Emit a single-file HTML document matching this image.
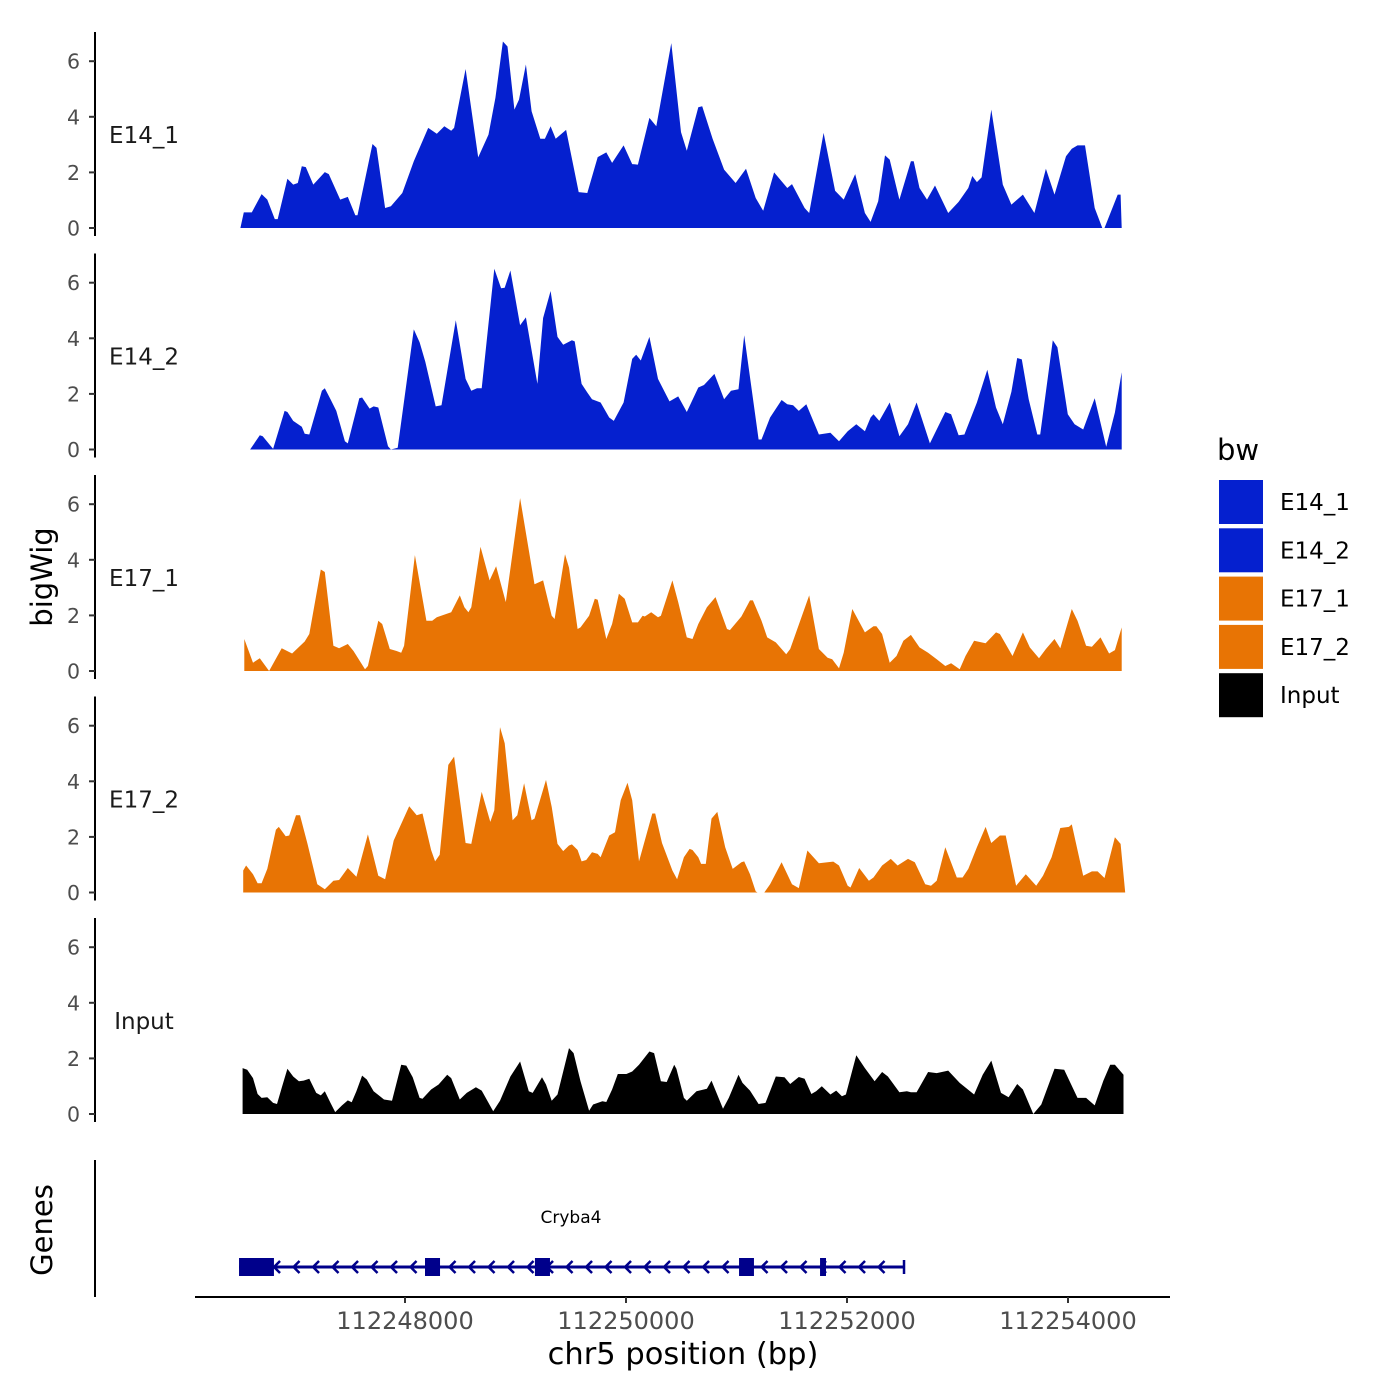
<!DOCTYPE html>
<html><head><meta charset="utf-8">
<style>
body{margin:0;background:#fff;}
svg{display:block;font-family:"DejaVu Sans","Liberation Sans",sans-serif;}
</style></head>
<body>
<svg id="chart" width="1400" height="1400" xmlns="http://www.w3.org/2000/svg"></svg>
<script>
const START = 112246380;
const trackNames = ["E14_1","E14_2","E17_1","E17_2","Input"];
const trackColors = ["#0520cf","#0520cf","#e87404","#e87404","#000000"];
const yTicks = [0,2,4,6];
const xTicks = [112248000,112250000,112252000,112254000];
const pos1 = [130,161,234,322,374,442,468,556,608,650,686,722,790,894,930,1034,1102,1170,1190,1326,1362,1440,1492,1596,1700,1830,1908,1976,2038,2064,2168,2282,2376,2438,2506,2548,2610,2652,2714,2766,2844,2886,2938,2984,3078,3192,3270,3364,3442,3494,3598,3676,3728,3832,3894,4030,4118,4170,4274,4310,4404,4508,4612,4706,4794,4862,4960,5080,5122,5236,5278,5408,5512,5590,5694,5782,5834,5902,5964,6006,6094,6198,6224,6276,6344,6416,6536,6630,6718,6754,6796,6838,6926,7030,7108,7212,7316,7420,7498,7602,7654,7706,7774,7862,7930,7950,8070,8096,8106];
const val1 = [0,0.56,0.56,1.22,1.02,0.32,0.32,1.77,1.56,1.62,2.22,2.19,1.56,2.01,1.94,1.02,1.12,0.46,0.46,3.02,2.88,0.72,0.78,1.26,2.40,3.60,3.39,3.66,3.50,3.60,5.72,2.54,3.36,4.68,6.71,6.53,4.26,4.62,5.88,4.20,3.21,3.21,3.66,3.21,3.53,1.29,1.26,2.55,2.72,2.34,2.97,2.30,2.28,3.96,3.66,6.65,3.45,2.78,4.34,4.38,3.21,2.10,1.62,2.13,1.08,0.62,2.00,1.44,1.58,0.72,0.54,3.42,1.34,1.02,1.94,0.54,0.22,0.96,2.61,2.46,1.02,2.40,2.40,1.44,1.02,1.53,0.54,0.94,1.44,1.87,1.65,1.82,4.26,1.56,0.84,1.20,0.54,2.13,1.20,2.58,2.85,2.97,2.97,0.72,0,0,1.20,1.20,0];
const pos2 = [218,306,332,426,530,556,608,686,712,754,868,894,946,998,1076,1102,1206,1232,1300,1336,1378,1466,1492,1554,1700,1752,1804,1898,1950,2080,2168,2220,2272,2314,2428,2490,2522,2574,2662,2714,2818,2870,2938,3000,3052,3130,3156,3218,3270,3312,3390,3468,3510,3598,3676,3712,3754,3832,3910,4014,4092,4170,4274,4326,4420,4508,4570,4638,4690,4820,4846,4924,5028,5080,5132,5184,5252,5366,5470,5548,5626,5704,5782,5834,5860,5912,6006,6094,6172,6250,6370,6510,6562,6630,6682,6796,6890,6968,7030,7108,7160,7202,7264,7342,7368,7482,7524,7618,7680,7758,7862,7966,8044,8106];
const val2 = [0,0.51,0.48,0.02,1.39,1.35,1.03,0.82,0.57,0.54,2.11,2.20,1.81,1.39,0.30,0.22,1.84,1.87,1.47,1.55,1.51,0.12,0,0.06,4.32,3.86,3.16,1.55,1.59,4.65,2.54,2.11,2.20,2.20,6.50,5.80,5.82,6.44,4.47,4.75,2.36,4.73,5.70,4.05,3.77,3.93,3.89,2.36,2.05,1.81,1.69,1.15,1.03,1.69,3.26,3.41,3.20,4.05,2.54,1.73,1.91,1.35,2.23,2.32,2.72,1.81,2.11,2.17,4.11,0.36,0.36,1.15,1.78,1.63,1.59,1.39,1.63,0.54,0.60,0.30,0.66,0.91,0.66,1.15,1.27,1.03,1.69,0.48,0.91,1.69,0.22,1.35,1.27,0.51,0.54,1.69,2.87,1.51,0.91,2.08,3.29,3.24,1.81,0.54,0.54,3.93,3.68,1.27,0.91,0.72,1.84,0.10,1.33,2.78];
const pos3 = [166,244,306,390,504,598,712,754,858,894,972,1024,1102,1154,1258,1284,1378,1414,1482,1544,1586,1612,1710,1814,1866,1908,2038,2116,2158,2194,2220,2303,2386,2444,2532,2662,2740,2792,2870,2948,2974,3068,3104,3182,3208,3286,3338,3364,3442,3494,3556,3608,3676,3728,3770,3790,3848,3910,3936,4040,4092,4170,4222,4274,4352,4430,4534,4560,4664,4742,4768,4846,4898,4976,5070,5106,5278,5366,5444,5486,5548,5590,5668,5782,5860,5886,5938,6006,6068,6130,6198,6276,6354,6432,6510,6562,6640,6692,6770,6874,6968,7004,7118,7212,7274,7358,7420,7498,7550,7654,7706,7784,7836,7914,7992,8044,8106];
const val3 = [1.15,0.30,0.46,0,0.82,0.63,1.06,1.33,3.65,3.56,0.91,0.82,0.97,0.72,0.06,0.18,1.81,1.69,0.79,0.72,0.66,0.91,4.17,1.81,1.81,1.93,2.11,2.72,2.29,2.11,2.29,4.47,3.26,3.77,2.48,6.22,4.35,3.12,3.26,1.99,1.87,4.20,3.72,1.51,1.57,1.99,2.60,2.56,1.15,1.69,2.78,2.60,1.75,1.75,1.99,1.96,2.11,1.93,1.99,3.26,2.48,1.21,1.15,1.69,2.29,2.66,1.51,1.47,1.96,2.54,2.54,1.81,1.21,1.03,0.60,0.79,2.72,0.79,0.48,0.42,0.10,0.66,2.23,1.39,1.61,1.61,1.33,0.30,0.54,1.09,1.30,0.85,0.66,0.42,0.18,0.28,0.06,0.54,1.09,1.00,1.39,1.33,0.54,1.39,0.85,0.46,0.79,1.15,0.82,2.23,1.81,0.91,0.87,1.21,0.63,0.75,1.57];
const pos4 = [156,182,244,286,322,374,452,478,540,572,634,670,738,826,894,972,1024,1102,1180,1284,1378,1440,1518,1658,1726,1778,1856,1892,1934,2012,2064,2168,2220,2314,2392,2428,2480,2522,2594,2636,2698,2766,2792,2896,2948,3000,3052,3104,3130,3182,3218,3260,3312,3364,3390,3468,3520,3572,3634,3676,3738,3858,3884,3946,4040,4082,4144,4196,4222,4274,4300,4342,4394,4446,4518,4586,4664,4690,4742,4794,4810,4872,4924,5028,5122,5184,5262,5366,5444,5496,5548,5626,5652,5730,5818,5860,5938,6016,6078,6172,6234,6328,6380,6432,6510,6614,6666,6718,6796,6874,6926,7004,7056,7150,7238,7332,7394,7472,7550,7628,7654,7758,7836,7888,7950,8044,8096,8138];
const val4 = [0.79,0.97,0.66,0.33,0.33,0.85,2.26,2.36,2.02,2.05,2.78,2.78,1.75,0.30,0.12,0.42,0.45,0.88,0.57,2.09,0.60,0.48,1.87,3.10,2.78,2.84,1.53,1.12,1.36,4.59,4.89,1.78,1.75,3.62,2.54,2.96,5.95,5.37,2.60,2.78,3.93,2.60,2.66,4.05,3.08,1.75,1.49,1.69,1.73,1.53,1.12,1.17,1.45,1.39,1.27,2.05,2.17,3.32,3.95,3.32,1.12,2.84,2.84,1.78,0.79,0.48,1.27,1.57,1.53,1.27,1.03,1.03,2.66,2.90,1.63,0.85,1.09,1.12,0.66,0.04,0,0,0.30,1.09,0.30,0.16,1.51,1.05,1.09,1.11,0.97,0.24,0.18,0.88,0.42,0.54,0.97,1.21,0.97,1.21,1.09,0.30,0.24,0.42,1.63,0.54,0.54,0.85,1.63,2.36,1.78,2.05,2.05,0.24,0.66,0.24,0.60,1.27,2.32,2.36,2.45,0.60,0.76,0.76,0.52,1.99,1.75,0];
const pos5 = [150,192,244,286,322,374,426,462,504,556,608,660,702,754,816,858,894,946,988,1050,1102,1138,1180,1232,1274,1336,1430,1502,1586,1632,1690,1752,1778,1856,1924,2002,2038,2116,2178,2262,2314,2418,2480,2574,2662,2740,2776,2860,2896,2948,3000,3104,3146,3208,3286,3322,3406,3442,3494,3546,3624,3676,3738,3832,3874,3936,3988,4056,4076,4144,4170,4258,4352,4394,4498,4550,4638,4674,4742,4820,4882,4976,5054,5106,5184,5236,5298,5340,5392,5470,5522,5574,5610,5704,5782,5870,5938,5990,6094,6162,6198,6250,6354,6432,6536,6640,6770,6848,6926,7014,7082,7160,7212,7306,7378,7498,7586,7706,7784,7862,7940,8002,8044,8122];
const val5 = [1.65,1.59,1.29,0.72,0.58,0.60,0.40,0.36,0.94,1.63,1.35,1.18,1.20,1.27,0.76,0.67,0.82,0.40,0.07,0.31,0.49,0.42,0.82,1.38,1.24,0.82,0.52,0.48,1.77,1.74,1.32,0.58,0.55,0.88,1.06,1.41,1.29,0.52,0.76,0.96,0.84,0.10,0.48,1.35,1.89,0.82,0.76,1.32,1.06,0.48,0.70,2.37,2.19,1.18,0.12,0.34,0.46,0.43,0.88,1.44,1.44,1.53,1.77,2.25,2.19,1.18,1.15,1.77,1.63,0.58,0.48,0.82,0.91,1.20,0.19,0.58,1.41,1.12,0.84,0.36,0.40,1.35,1.32,1.08,1.33,1.27,0.72,0.82,1.00,0.70,0.84,0.64,0.70,2.11,1.65,1.18,1.51,1.35,0.78,0.82,0.78,0.78,1.51,1.47,1.56,1.12,0.70,1.41,1.92,0.76,0.60,1.08,0.88,0,0.34,1.63,1.59,0.58,0.58,0.31,1.20,1.77,1.77,1.41];
const exonStarts = [112246498,112248181,112249176,112251023,112251756];
const exonEnds = [112246814,112248317,112249312,112251158,112251810];
const geneStart = 112246498, geneEnd = 112252516;

const positions=[pos1,pos2,pos3,pos4,pos5];
const values=[val1,val2,val3,val4,val5];
const NS="http://www.w3.org/2000/svg";
const svg=document.getElementById('chart');
function xs(bp){return 405+(bp-112248000)*0.1105;}
function mk(tag,attrs,parent){const e=document.createElementNS(NS,tag);for(const k in attrs)e.setAttribute(k,attrs[k]);(parent||svg).appendChild(e);return e;}
const PANEL_ZERO=[228,449.5,671,892.5,1114];
const YS=27.8;
for(let t=0;t<5;t++){
  const z=PANEL_ZERO[t];
  const g=mk('g',{});
  
  
  const ax=mk('line',{x1:95,x2:95,y1:z-196,y2:z+8,stroke:'#000','stroke-width':2},g);
  
  
  for(const v of yTicks){
    const y=z-v*YS;
    const tk=mk('line',{x1:89,x2:95,y1:y,y2:y,stroke:'#333','stroke-width':2},g);
    
    
    const tl=mk('text',{x:80,y:y+7.5,'text-anchor':'end','font-size':20.5,fill:'#4d4d4d'},g);
    tl.textContent=v;
    
    
  }
  const lab=mk('text',{x:144,y:z-85,'text-anchor':'middle','font-size':23,fill:'#1a1a1a'},g);
  lab.textContent=trackNames[t];
  
  
  const P=positions[t],V=values[t];
  let d='M'+xs(START+P[0]).toFixed(1)+','+z;
  for(let i=0;i<P.length;i++){d+='L'+xs(START+P[i]).toFixed(1)+','+(z-V[i]*YS).toFixed(1);}
  d+='L'+xs(START+P[P.length-1]).toFixed(1)+','+z+'Z';
  const area=mk('path',{d:d,fill:trackColors[t],'stroke-linejoin':'round'},g);
  
  
}
const yt=mk('text',{x:52,y:577,'text-anchor':'middle','font-size':29,fill:'#000',transform:'rotate(-90 52 577)'});
yt.textContent='bigWig';


const gt=mk('text',{x:52,y:1230,'text-anchor':'middle','font-size':29,fill:'#000',transform:'rotate(-90 52 1230)'});
gt.textContent='Genes';


const gax=mk('line',{x1:95,x2:95,y1:1160,y2:1297,stroke:'#000','stroke-width':2});


const gg=mk('g',{});


const gy=1267;
const gl=mk('line',{x1:xs(geneStart),x2:xs(geneEnd),y1:gy,y2:gy,stroke:'#00008b','stroke-width':3},gg);


for(let x=xs(geneStart)+37;x<xs(geneEnd)-5;x+=19.5){
  const ar=mk('polyline',{points:(x+4)+','+(gy-6)+' '+(x-2)+','+gy+' '+(x+4)+','+(gy+6),fill:'none',stroke:'#00008b','stroke-width':2.5},gg);
  
  
}
const et=mk('line',{x1:xs(geneEnd),x2:xs(geneEnd),y1:gy-7,y2:gy+7,stroke:'#00008b','stroke-width':2.5},gg);


for(let i=0;i<exonStarts.length;i++){
  const r=mk('rect',{x:xs(exonStarts[i]),y:gy-9,width:xs(exonEnds[i])-xs(exonStarts[i]),height:18,fill:'#00008b'},gg);
  
  
}
const gn=mk('text',{x:571,y:1223,'text-anchor':'middle','font-size':17,fill:'#000'},gg);
gn.textContent='Cryba4';


const xa=mk('line',{x1:195,x2:1170,y1:1297,y2:1297,stroke:'#000','stroke-width':2});


for(const v of xTicks){
  const x=xs(v);
  const tk=mk('line',{x1:x,x2:x,y1:1297,y2:1303,stroke:'#333','stroke-width':2});
  
  
  const tl=mk('text',{x:x,y:1329,'text-anchor':'middle','font-size':24,fill:'#4d4d4d'});
  tl.textContent=v;
  
  
}
const xt=mk('text',{x:683,y:1364,'text-anchor':'middle','font-size':30.5,fill:'#000'});
xt.textContent='chr5 position (bp)';


const lg=mk('g',{});


const lt=mk('text',{x:1217,y:460,'font-size':29,fill:'#000'},lg);
lt.textContent='bw';


for(let i=0;i<5;i++){
  const y=480+i*48.3;
  const k=mk('rect',{x:1219,y:y,width:44,height:44,fill:trackColors[i]},lg);
  
  
  const tx=mk('text',{x:1280,y:y+30,'font-size':23,fill:'#000'},lg);
  tx.textContent=trackNames[i];
  
  
}
</script>
</body></html>
